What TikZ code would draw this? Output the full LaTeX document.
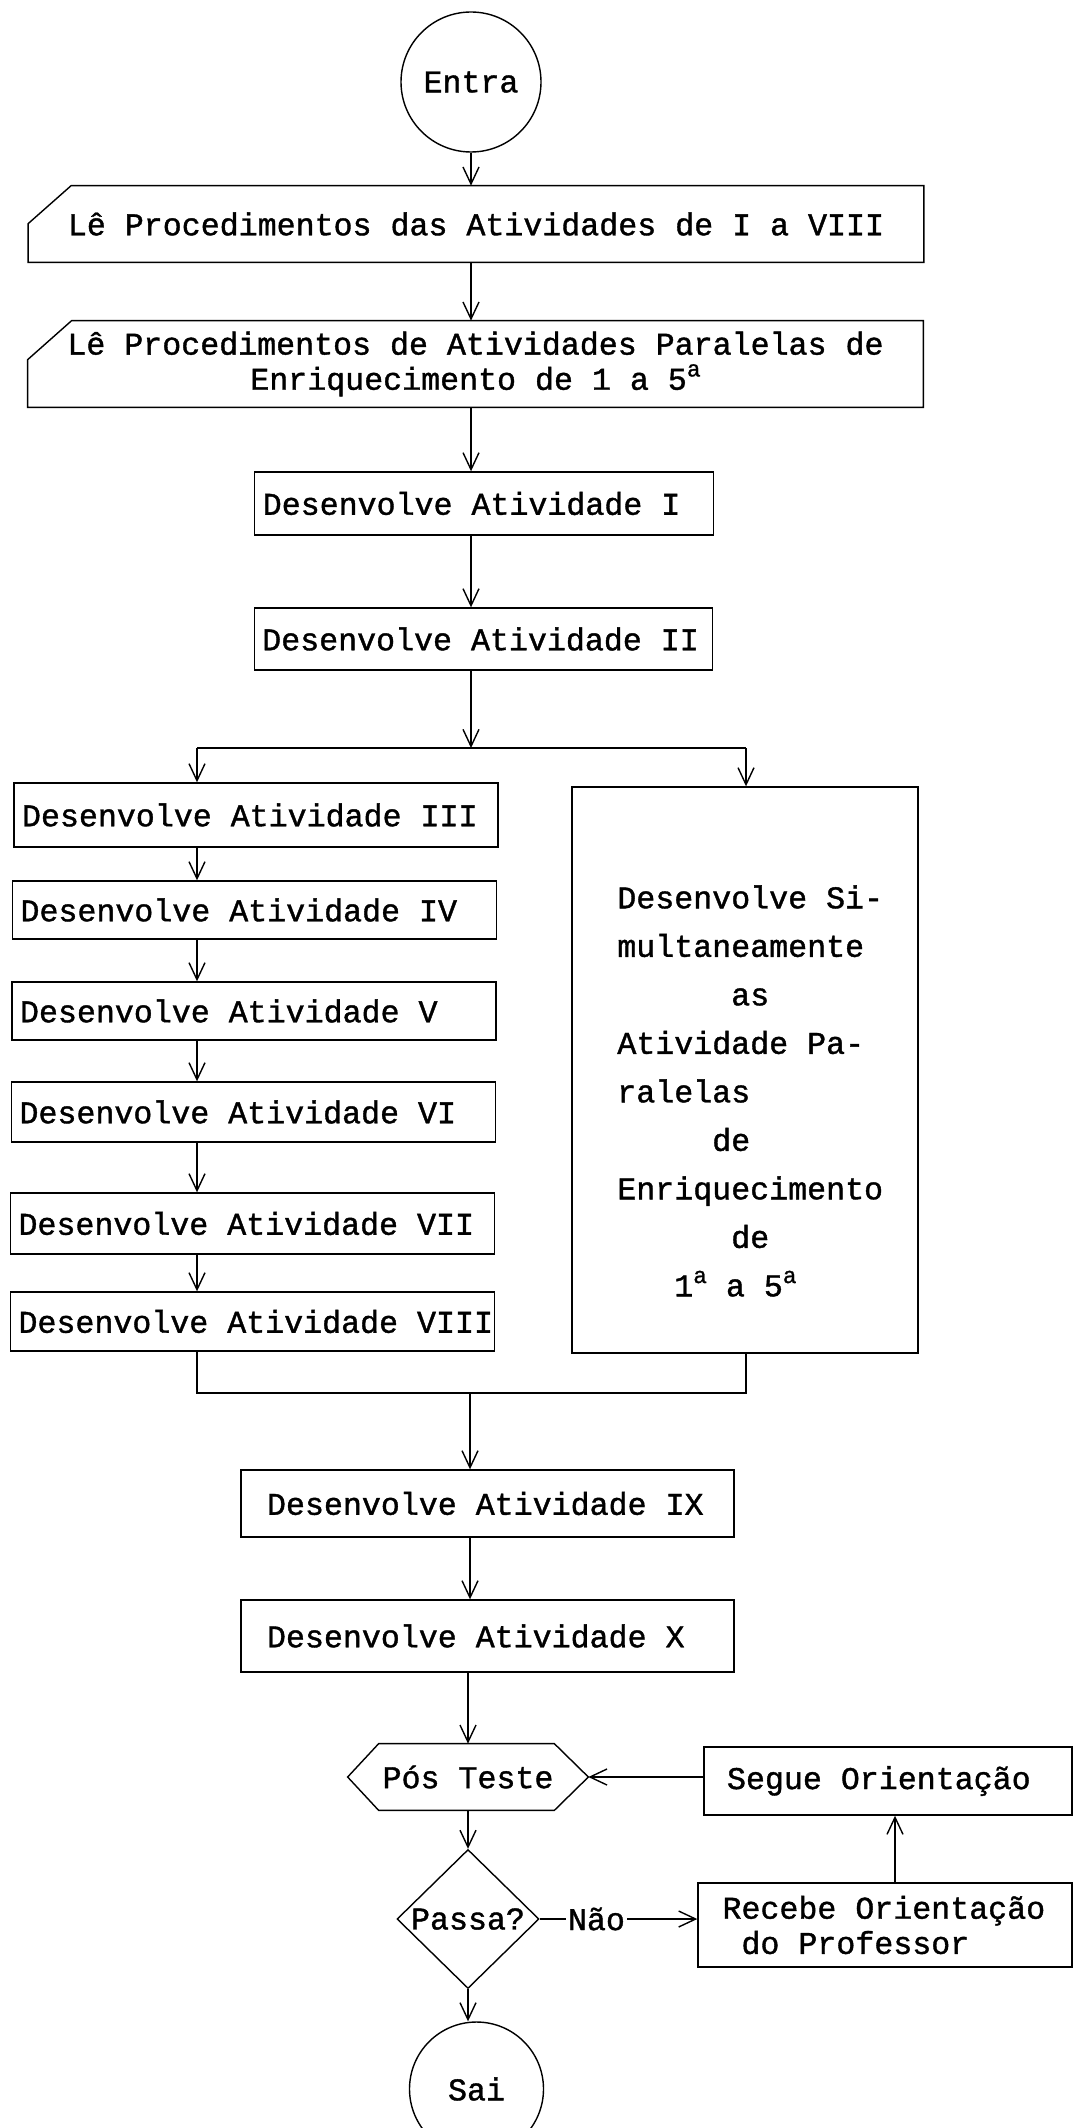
\documentclass[tikz,border=0pt]{standalone}
\usepackage{fontspec}
\setmainfont[FakeBold = 1.2]{Liberation Mono}
\usetikzlibrary{arrows.meta, shapes.geometric}

\newcommand{\ordsup}{\raisebox{0.42em}{\fontsize{13}{13}\selectfont a}}

\tikzset{
	flow/.style = {draw, line width = 0.8pt},
	arr/.style = {flow, -{Straight Barb[length = 0.34cm, width = 0.32cm]}},
	terminal/.style = {draw, circle, line width = 0.8pt, inner sep = 0pt},
	actbox/.style = {draw, rectangle, line width = 0.8pt, align = flush left, inner ysep = 0pt},
	readbox/.style = {rectangle, align = center, inner sep = 0pt, minimum width = 17.9cm},
	testbox/.style = {rectangle, inner sep = 0pt, minimum width = 4.8cm, minimum height = 1.32cm},
	choice/.style = {draw, diamond, line width = 0.8pt, inner sep = 0pt, minimum width = 2.84cm, minimum height = 2.78cm}
}

\begin{document}
\begin{tikzpicture}[font = \fontsize{18}{20}\selectfont]
	\useasboundingbox (0,0) rectangle (21.5,-42.56);
	\fill[white] (0,0) rectangle (21.5,-42.56);

	\node[terminal, minimum size = 2.8cm] (entra) at (9.42,-1.64) {Entra};
	\node[readbox, minimum height = 1.52cm] (read1) at (9.52,-4.48) {Lê Procedimentos das Atividades de I a VIII};
	\draw[flow] (read1.south west) -- ([yshift = -0.76cm]read1.north west) -- ([xshift = 0.86cm]read1.north west) -- (read1.north east) -- (read1.south east) -- cycle;
	\node[readbox, minimum height = 1.72cm] (read2) at (9.51,-7.28) {Lê Procedimentos de Atividades Paralelas de\\Enriquecimento de 1 a 5\ordsup};
	\draw[flow] (read2.south west) -- ([yshift = -0.78cm]read2.north west) -- ([xshift = 0.88cm]read2.north west) -- (read2.north east) -- (read2.south east) -- cycle;

	\node[actbox, text width = 8.85cm, inner xsep = 0.16cm, minimum height = 1.26cm] (act1) at (9.68,-10.07) {Desenvolve Atividade I};
	\node[actbox, text width = 8.85cm, inner xsep = 0.16cm, minimum height = 1.24cm] (act2) at (9.67,-12.78) {Desenvolve Atividade II};

	\node[actbox, text width = 9.36cm, inner xsep = 0.16cm, minimum height = 1.28cm] (act3) at (5.12,-16.3) {Desenvolve Atividade III};
	\node[actbox, text width = 9.36cm, inner xsep = 0.16cm, minimum height = 1.16cm] (act4) at (5.09,-18.2) {Desenvolve Atividade IV};
	\node[actbox, text width = 9.36cm, inner xsep = 0.16cm, minimum height = 1.16cm] (act5) at (5.08,-20.22) {Desenvolve Atividade V};
	\node[actbox, text width = 9.36cm, inner xsep = 0.16cm, minimum height = 1.2cm] (act6) at (5.07,-22.24) {Desenvolve Atividade VI};
	\node[actbox, text width = 9.36cm, inner xsep = 0.16cm, minimum height = 1.22cm] (act7) at (5.05,-24.47) {Desenvolve Atividade VII};
	\node[actbox, text width = 9.36cm, inner xsep = 0.16cm, minimum height = 1.18cm] (act8) at (5.05,-26.43) {\mbox{Desenvolve Atividade VIII}};

	\node[actbox, minimum width = 6.92cm, minimum height = 11.32cm] (par) at (14.9,-21.4) {};
	\node[align = flush left, inner sep = 0pt, anchor = west, font = \fontsize{18}{27.6}\selectfont] (partext) at (12.34,-21.82) {Desenvolve Si-\\multaneamente\\\hspace*{3.6em}as\\Atividade Pa-\\ralelas\\\hspace*{3em}de\\Enriquecimento\\\hspace*{3.6em}de\\\hspace*{1.8em}1\ordsup{} a 5\ordsup};

	\node[actbox, text width = 8.82cm, inner xsep = 0.52cm, minimum height = 1.34cm] (act9) at (9.75,-30.07) {Desenvolve Atividade IX};
	\node[actbox, text width = 8.82cm, inner xsep = 0.52cm, minimum height = 1.44cm] (act10) at (9.75,-32.72) {Desenvolve Atividade X};

	\node[testbox] (postest) at (9.36,-35.54) {Pós Teste};
	\draw[flow] (postest.west) -- ([xshift = 0.62cm]postest.north west) -- ([xshift = -0.68cm]postest.north east) -- (postest.east) -- ([xshift = -0.68cm]postest.south east) -- ([xshift = 0.62cm]postest.south west) -- cycle;
	\node[choice] (passa) at (9.36,-38.38) {Passa?};
	\node[actbox, text width = 6.44cm, inner xsep = 0.46cm, minimum height = 1.36cm] (segue) at (17.76,-35.62) {Segue Orientação};
	\node[actbox, text width = 6.5cm, inner xsep = 0.49cm, minimum height = 1.68cm] (recebe) at (17.7,-38.5) {Recebe Orientação\\\hspace*{0.6em}do Professor};
	\node[terminal, minimum size = 2.68cm] (sai) at (9.53,-41.78) {Sai};

	\draw[arr] (entra) -- (read1.north -| entra);
	\draw[arr] (read1.south -| entra) -- (read2.north -| entra);
	\draw[arr] (read2.south -| entra) -- (act1.north -| entra);
	\draw[arr] (act1.south -| entra) -- (act2.north -| entra);

	\coordinate (split) at (9.42,-14.96);
	\coordinate (lcol) at (3.94,-14.96);
	\coordinate (rcol) at (14.92,-14.96);
	\draw[arr] (act2.south -| split) -- (split);
	\draw[flow] (lcol) -- (rcol);
	\draw[arr] (lcol) -- (act3.north -| lcol);
	\draw[arr] (rcol) -- (par.north -| rcol);
	\draw[arr] (act3.south -| lcol) -- (act4.north -| lcol);
	\draw[arr] (act4.south -| lcol) -- (act5.north -| lcol);
	\draw[arr] (act5.south -| lcol) -- (act6.north -| lcol);
	\draw[arr] (act6.south -| lcol) -- (act7.north -| lcol);
	\draw[arr] (act7.south -| lcol) -- (act8.north -| lcol);

	\coordinate (merge) at (9.4,-27.86);
	\draw[flow] (act8.south -| lcol) |- (merge) -| (par.south -| rcol);
	\draw[arr] (merge) -- (act9.north -| merge);
	\draw[arr] (act9.south -| merge) -- (act10.north -| merge);
	\draw[arr] (act10.south -| postest) -- (postest.north);
	\draw[arr] (postest.south) -- (passa.north);
	\draw[arr] (passa.east) -- node[fill = white, inner sep = 1pt, pos = 0.36] (nao) {Não} (passa.east -| recebe.west);
	\draw[arr] ([xshift = 0.2cm]recebe.north) -- ([xshift = 0.2cm]recebe.north |- segue.south);
	\draw[arr] (segue.west |- postest.east) -- (postest.east);
	\draw[arr] (passa.south) -- (passa.south |- sai.north);
\end{tikzpicture}
\end{document}
